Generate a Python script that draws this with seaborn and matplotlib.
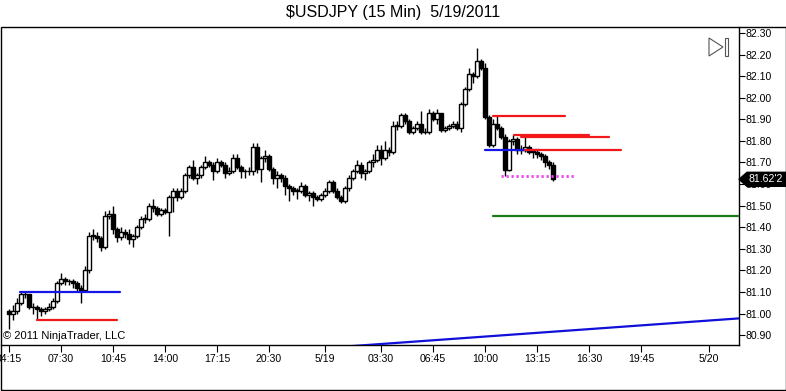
import numpy as np
import pandas as pd
import matplotlib
matplotlib.use("Agg")
import matplotlib.pyplot as plt
import matplotlib.transforms as mtransforms
from matplotlib.patches import Rectangle, Polygon
import seaborn as sns

# ---------------- data ----------------
START = "2011-05-18 04:15"
OPEN = [81.01, 81.00, 81.01, 81.05, 81.09, 81.09, 81.03, 81.03, 81.02, 81.01,
        81.02, 81.03, 81.06, 81.14, 81.16, 81.15, 81.15, 81.14, 81.12, 81.11,
        81.20, 81.36, 81.36, 81.35, 81.31, 81.45, 81.46, 81.39, 81.355, 81.38,
        81.37, 81.345, 81.36, 81.40, 81.44, 81.44, 81.50, 81.49, 81.46, 81.48,
        81.47, 81.54, 81.57, 81.54, 81.57, 81.64, 81.68, 81.63, 81.64, 81.68,
        81.70, 81.69, 81.66, 81.70, 81.69, 81.65, 81.66, 81.72, 81.68, 81.66,
        81.66, 81.66, 81.77, 81.67, 81.72, 81.73, 81.67, 81.63, 81.64, 81.63,
        81.59, 81.58, 81.57, 81.57, 81.59, 81.55, 81.56, 81.54, 81.53, 81.55,
        81.57, 81.61, 81.57, 81.54, 81.52, 81.58, 81.63, 81.66, 81.69, 81.65,
        81.66, 81.70, 81.71, 81.76, 81.72, 81.76, 81.75, 81.87, 81.87, 81.92,
        81.89, 81.84, 81.86, 81.88, 81.84, 81.84, 81.93, 81.90, 81.93, 81.85,
        81.86, 81.87, 81.88, 81.86, 81.97, 82.04, 82.11, 82.10, 82.17, 82.14,
        81.91, 81.78, 81.88, 81.86, 81.82, 81.665, 81.80, 81.81, 81.76, 81.76,
        81.77, 81.75, 81.75, 81.74, 81.73, 81.70, 81.69]
HIGH = [81.02, 81.04, 81.07, 81.10, 81.10, 81.09, 81.05, 81.04, 81.03, 81.03,
        81.05, 81.07, 81.15, 81.19, 81.17, 81.16, 81.16, 81.15, 81.13, 81.22,
        81.38, 81.39, 81.38, 81.36, 81.475, 81.48, 81.50, 81.40, 81.40, 81.39,
        81.39, 81.37, 81.41, 81.45, 81.46, 81.51, 81.53, 81.50, 81.49, 81.49,
        81.55, 81.58, 81.58, 81.58, 81.65, 81.69, 81.71, 81.65, 81.69, 81.73,
        81.71, 81.70, 81.72, 81.71, 81.70, 81.68, 81.74, 81.74, 81.69, 81.67,
        81.68, 81.79, 81.79, 81.73, 81.76, 81.74, 81.68, 81.66, 81.65, 81.64,
        81.60, 81.59, 81.58, 81.61, 81.60, 81.57, 81.57, 81.55, 81.56, 81.58,
        81.62, 81.62, 81.58, 81.55, 81.59, 81.64, 81.67, 81.71, 81.70, 81.67,
        81.71, 81.74, 81.78, 81.78, 81.80, 81.77, 81.89, 81.89, 81.93, 81.93,
        81.90, 81.87, 81.89, 81.94, 81.86, 81.95, 81.94, 81.95, 81.93, 81.87,
        81.88, 81.89, 81.89, 81.98, 82.05, 82.14, 82.12, 82.23, 82.18, 82.16,
        81.92, 81.90, 81.915, 81.87, 81.83, 81.81, 81.827, 81.82, 81.78, 81.817,
        81.78, 81.76, 81.757, 81.75, 81.74, 81.71, 81.70]
LOW = [80.93, 80.97, 81.00, 81.04, 81.07, 81.02, 81.00, 80.97, 80.99, 81.00,
       81.01, 81.02, 81.05, 81.13, 81.13, 81.13, 81.12, 81.10, 81.05, 81.10,
       81.19, 81.34, 81.33, 81.29, 81.30, 81.44, 81.37, 81.33, 81.34, 81.35,
       81.32, 81.31, 81.35, 81.39, 81.42, 81.43, 81.47, 81.45, 81.45, 81.46,
       81.36, 81.47, 81.52, 81.53, 81.56, 81.63, 81.62, 81.60, 81.63, 81.67,
       81.68, 81.62, 81.65, 81.68, 81.63, 81.64, 81.65, 81.67, 81.63, 81.63,
       81.64, 81.64, 81.65, 81.61, 81.70, 81.66, 81.60, 81.58, 81.61, 81.55,
       81.52, 81.55, 81.53, 81.56, 81.54, 81.52, 81.50, 81.52, 81.52, 81.54,
       81.56, 81.56, 81.53, 81.51, 81.51, 81.57, 81.62, 81.65, 81.63, 81.62,
       81.65, 81.68, 81.70, 81.69, 81.71, 81.73, 81.74, 81.85, 81.86, 81.88,
       81.83, 81.83, 81.85, 81.83, 81.83, 81.83, 81.89, 81.88, 81.84, 81.84,
       81.85, 81.86, 81.85, 81.84, 81.96, 82.03, 82.07, 82.09, 82.13, 81.90,
       81.77, 81.77, 81.85, 81.81, 81.637, 81.66, 81.78, 81.74, 81.74, 81.75,
       81.74, 81.72, 81.72, 81.71, 81.68, 81.67, 81.615]
CLOSE = [81.00, 81.01, 81.05, 81.09, 81.09, 81.03, 81.03, 81.02, 81.01, 81.02,
         81.03, 81.06, 81.14, 81.16, 81.15, 81.15, 81.14, 81.12, 81.11, 81.20,
         81.36, 81.36, 81.35, 81.31, 81.45, 81.46, 81.39, 81.355, 81.38, 81.37,
         81.345, 81.36, 81.40, 81.44, 81.44, 81.50, 81.49, 81.46, 81.48, 81.47,
         81.54, 81.57, 81.54, 81.57, 81.64, 81.68, 81.63, 81.64, 81.68, 81.70,
         81.69, 81.66, 81.70, 81.69, 81.65, 81.66, 81.72, 81.68, 81.66, 81.66,
         81.66, 81.77, 81.67, 81.72, 81.73, 81.67, 81.63, 81.64, 81.63, 81.59,
         81.58, 81.57, 81.57, 81.59, 81.55, 81.56, 81.54, 81.53, 81.55, 81.57,
         81.61, 81.57, 81.54, 81.52, 81.58, 81.63, 81.66, 81.69, 81.65, 81.66,
         81.70, 81.71, 81.76, 81.72, 81.76, 81.75, 81.87, 81.87, 81.92, 81.89,
         81.84, 81.86, 81.88, 81.84, 81.84, 81.93, 81.90, 81.93, 81.85, 81.86,
         81.87, 81.88, 81.86, 81.97, 82.04, 82.11, 82.10, 82.17, 82.14, 81.91,
         81.78, 81.88, 81.86, 81.82, 81.665, 81.80, 81.81, 81.76, 81.76, 81.77,
         81.75, 81.75, 81.74, 81.73, 81.70, 81.69, 81.622]
LAST_PRICE_LABEL = "81.62'2"

TICK_TIMES = ["2011-05-18 04:15", "2011-05-18 07:30", "2011-05-18 10:45",
              "2011-05-18 14:00", "2011-05-18 17:15", "2011-05-18 20:30",
              "2011-05-19 00:00", "2011-05-19 03:30", "2011-05-19 06:45",
              "2011-05-19 10:00", "2011-05-19 13:15", "2011-05-19 16:30",
              "2011-05-19 19:45", "2011-05-20 00:00"]
TICK_LABELS = ["04:15", "07:30", "10:45", "14:00", "17:15", "20:30", "5/19",
               "03:30", "06:45", "10:00", "13:15", "16:30", "19:45", "5/20"]
Y_TICKS = [82.30, 82.20, 82.10, 82.00, 81.90, 81.80, 81.70, 81.60, 81.50,
           81.40, 81.30, 81.20, 81.10, 81.00, 80.90]

# drawn objects: (start time, end time, price)
LINE_START = ["2011-05-18 04:56", "2011-05-18 06:00", "2011-05-19 10:00",
              "2011-05-19 10:30", "2011-05-19 11:49", "2011-05-19 12:15",
              "2011-05-19 12:30", "2011-05-19 11:00", "2011-05-19 10:30"]
LINE_END = ["2011-05-18 11:11", "2011-05-18 11:00", "2011-05-19 13:26",
            "2011-05-19 15:00", "2011-05-19 16:30", "2011-05-19 17:45",
            "2011-05-19 18:30", "2011-05-19 15:41", "2011-05-20 01:52"]
LINE_PRICE = [81.10, 80.97, 81.757, 81.915, 81.827, 81.817, 81.757, 81.637, 81.45]
LINE_COLOR = ["#1515e6", "#f01818", "#1515e6", "#f01818", "#f01818", "#f01818",
              "#f01818", "#f040f0", "#1a7a1a"]
LINE_STYLE = ["-", "-", "-", "-", "-", "-", "-", "dot", "-"]
TREND_TIME = ["2011-05-19 00:00", "2011-05-20 02:00"]
TREND_PRICE = [80.840, 80.978]

# --------------- helpers ----------------
start = pd.Timestamp(START)
step = pd.Timedelta(minutes=15)
def to_bar(t):
    return (pd.Timestamp(t) - start) / step

df = pd.DataFrame({"o": OPEN, "h": HIGH, "l": LOW, "c": CLOSE})
df["x"] = np.arange(len(df))

sns.set_theme(style="white")
plt.rcParams['font.family'] = ['Liberation Sans', 'DejaVu Sans']

W, H = 786, 391
fig = plt.figure(figsize=(W / 100, H / 100), dpi=100)
fig.patch.set_facecolor("white")
ax_top, ax_bot, ax_left, ax_right = 27, 345, 1, 739
ax = fig.add_axes([ax_left / W, (H - ax_bot) / H, (ax_right - ax_left) / W,
                   (ax_bot - ax_top) / H])
ax.set_facecolor("white")
ax.set_xlim(-2, 182.5)
ax.set_ylim(80.854, 82.328)

# candles
ax.vlines(df["x"], df["l"], df["h"], color="black", linewidth=1.0, zorder=2)
up = df["c"] >= df["o"]
body_bottom = np.minimum(df["o"], df["c"])
body_h = np.maximum(np.abs(df["c"] - df["o"]), 0.002)
ax.bar(df["x"], body_h, bottom=body_bottom, width=0.88,
       color=np.where(up, "white", "black"), edgecolor="black",
       linewidth=1.0, zorder=3)

# drawn horizontal lines
for s, e, p, col, st in zip(LINE_START, LINE_END, LINE_PRICE, LINE_COLOR, LINE_STYLE):
    seg = pd.DataFrame({"x": [to_bar(s), to_bar(e)], "y": [p, p]})
    if st == "dot":
        sns.lineplot(data=seg, x="x", y="y", color=col, linewidth=2.0,
                     linestyle=(0, (0.8, 1.0)), ax=ax, zorder=5, legend=False)
    else:
        sns.lineplot(data=seg, x="x", y="y", color=col, linewidth=1.6,
                     ax=ax, zorder=5, legend=False)
trend = pd.DataFrame({"x": [to_bar(t) for t in TREND_TIME], "y": TREND_PRICE})
sns.lineplot(data=trend, x="x", y="y", color="#1010d8", linewidth=1.6, ax=ax,
             zorder=5, legend=False)

# axes styling
ax.set_xlabel("")
ax.set_ylabel("")
for side in ["top", "left"]:
    ax.spines[side].set_visible(False)
for side in ["right", "bottom"]:
    ax.spines[side].set_visible(True)
    ax.spines[side].set_color("black")
    ax.spines[side].set_linewidth(1.0)
ax.yaxis.tick_right()
ax.set_yticks(Y_TICKS)
ax.set_yticklabels([f"{v:.2f}" for v in Y_TICKS])
ax.set_xticks([to_bar(t) for t in TICK_TIMES])
ax.set_xticklabels(TICK_LABELS)
ax.tick_params(axis="y", direction="out", length=4, width=0.8, pad=1,
               labelsize=7.6, colors="black", right=True, left=False)
ax.tick_params(axis="x", direction="out", length=5, width=0.8, pad=1.5,
               labelsize=7.6, colors="black", bottom=True)
ax.grid(False)

ax.text(0.003, 0.012, "\u00a9 2011 NinjaTrader, LLC", transform=ax.transAxes,
        fontsize=8, ha="left", va="bottom", color="black")

# title
fig.text(0.5, (H - 13) / H, r"\$USDJPY (15 Min)  5/19/2011", ha="center",
         va="center", fontsize=11.5, color="black")

# outer frame
fig.add_artist(Rectangle((0.5 / W, 1 / H), 785 / W, (390 - 27) / H,
                         transform=fig.transFigure, fill=False,
                         edgecolor="black", linewidth=1.0))

# last price marker
blend = mtransforms.blended_transform_factory(fig.transFigure, ax.transData)
last = CLOSE[-1]
ppu = (ax_bot - ax_top) / (82.328 - 80.854)
hh = 7.0 / ppu
fig.add_artist(Polygon([(739 / W, last), (747 / W, last + hh), (1.0, last + hh),
                        (1.0, last - hh), (747 / W, last - hh)], closed=True,
                       transform=blend, facecolor="black", edgecolor="black",
                       zorder=10))
fig.text(766 / W, last, LAST_PRICE_LABEL, transform=blend, ha="center",
         va="center", fontsize=7.6, color="white", zorder=11)

# play-to-end icon
def fx(px):
    return px / W
def fy(py):
    return (H - py) / H
fig.add_artist(Polygon([(fx(709), fy(38)), (fx(709), fy(56)), (fx(723), fy(47))],
                       closed=True, transform=fig.transFigure, fill=False,
                       edgecolor="#555555", linewidth=0.8, zorder=10))
fig.add_artist(Rectangle((fx(725), fy(56)), 3 / W, 18 / H,
                         transform=fig.transFigure, fill=False,
                         edgecolor="#555555", linewidth=0.8, zorder=10))

fig.savefig("out.png", dpi=100)
